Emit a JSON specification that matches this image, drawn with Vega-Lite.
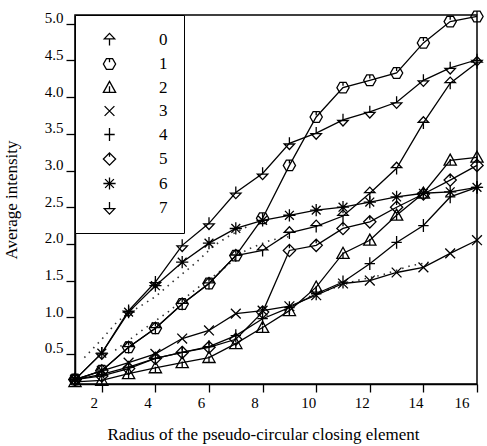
{
  "$schema": "https://vega.github.io/schema/vega-lite/v6.json",
  "width": 402,
  "height": 369,
  "autosize": "none",
  "padding": {"left": 75, "top": 15, "right": 10, "bottom": 62},
  "background": "white",
  "config": {
    "view": {"stroke": "black", "strokeWidth": 1.5},
    "font": "Liberation Serif",
    "axis": {
      "domainColor": "black", "domainWidth": 1.5, "tickColor": "black", "tickWidth": 1.3,
      "labelColor": "black", "labelFont": "Liberation Serif", "labelFontSize": 15,
      "titleColor": "black", "titleFont": "Liberation Serif", "titleFontSize": 17, "titleFontWeight": "normal",
      "grid": false
    }
  },
  "datasets": {
    "main": [
      {"s": "0", "x": 1, "y": 0.15}, {"s": "0", "x": 2, "y": 0.27}, {"s": "0", "x": 3, "y": 0.59}, {"s": "0", "x": 4, "y": 0.85},
      {"s": "0", "x": 5, "y": 1.18}, {"s": "0", "x": 6, "y": 1.46}, {"s": "0", "x": 7, "y": 1.84}, {"s": "0", "x": 8, "y": 1.91},
      {"s": "0", "x": 9, "y": 2.15}, {"s": "0", "x": 10, "y": 2.24}, {"s": "0", "x": 11, "y": 2.38}, {"s": "0", "x": 12, "y": 2.69},
      {"s": "0", "x": 13, "y": 3.03}, {"s": "0", "x": 14, "y": 3.65}, {"s": "0", "x": 15, "y": 4.19}, {"s": "0", "x": 16, "y": 4.47},
      {"s": "1", "x": 1, "y": 0.15}, {"s": "1", "x": 2, "y": 0.27}, {"s": "1", "x": 3, "y": 0.59}, {"s": "1", "x": 4, "y": 0.85},
      {"s": "1", "x": 5, "y": 1.18}, {"s": "1", "x": 6, "y": 1.46}, {"s": "1", "x": 7, "y": 1.84}, {"s": "1", "x": 8, "y": 2.35},
      {"s": "1", "x": 9, "y": 3.07}, {"s": "1", "x": 10, "y": 3.73}, {"s": "1", "x": 11, "y": 4.13}, {"s": "1", "x": 12, "y": 4.23},
      {"s": "1", "x": 13, "y": 4.33}, {"s": "1", "x": 14, "y": 4.74}, {"s": "1", "x": 15, "y": 5.03}, {"s": "1", "x": 16, "y": 5.1},
      {"s": "2", "x": 1, "y": 0.12}, {"s": "2", "x": 2, "y": 0.14}, {"s": "2", "x": 3, "y": 0.23}, {"s": "2", "x": 4, "y": 0.31},
      {"s": "2", "x": 5, "y": 0.38}, {"s": "2", "x": 6, "y": 0.45}, {"s": "2", "x": 7, "y": 0.64}, {"s": "2", "x": 8, "y": 0.86},
      {"s": "2", "x": 9, "y": 1.09}, {"s": "2", "x": 10, "y": 1.41}, {"s": "2", "x": 11, "y": 1.87}, {"s": "2", "x": 12, "y": 2.05},
      {"s": "2", "x": 13, "y": 2.39}, {"s": "2", "x": 14, "y": 2.69}, {"s": "2", "x": 15, "y": 3.14}, {"s": "2", "x": 16, "y": 3.18},
      {"s": "3", "x": 1, "y": 0.15}, {"s": "3", "x": 2, "y": 0.27}, {"s": "3", "x": 3, "y": 0.38}, {"s": "3", "x": 4, "y": 0.5},
      {"s": "3", "x": 5, "y": 0.71}, {"s": "3", "x": 6, "y": 0.82}, {"s": "3", "x": 7, "y": 1.05}, {"s": "3", "x": 8, "y": 1.09},
      {"s": "3", "x": 9, "y": 1.15}, {"s": "3", "x": 10, "y": 1.3}, {"s": "3", "x": 11, "y": 1.46}, {"s": "3", "x": 12, "y": 1.5},
      {"s": "3", "x": 13, "y": 1.61}, {"s": "3", "x": 14, "y": 1.68}, {"s": "3", "x": 15, "y": 1.87}, {"s": "3", "x": 16, "y": 2.05},
      {"s": "4", "x": 1, "y": 0.15}, {"s": "4", "x": 2, "y": 0.22}, {"s": "4", "x": 3, "y": 0.32}, {"s": "4", "x": 4, "y": 0.44},
      {"s": "4", "x": 5, "y": 0.52}, {"s": "4", "x": 6, "y": 0.6}, {"s": "4", "x": 7, "y": 0.75}, {"s": "4", "x": 8, "y": 0.98},
      {"s": "4", "x": 9, "y": 1.13}, {"s": "4", "x": 10, "y": 1.32}, {"s": "4", "x": 11, "y": 1.48}, {"s": "4", "x": 12, "y": 1.73},
      {"s": "4", "x": 13, "y": 2.02}, {"s": "4", "x": 14, "y": 2.25}, {"s": "4", "x": 15, "y": 2.64}, {"s": "4", "x": 16, "y": 2.77},
      {"s": "5", "x": 1, "y": 0.15}, {"s": "5", "x": 2, "y": 0.2}, {"s": "5", "x": 3, "y": 0.3}, {"s": "5", "x": 4, "y": 0.44},
      {"s": "5", "x": 5, "y": 0.52}, {"s": "5", "x": 6, "y": 0.59}, {"s": "5", "x": 7, "y": 0.7}, {"s": "5", "x": 8, "y": 1.07},
      {"s": "5", "x": 9, "y": 1.91}, {"s": "5", "x": 10, "y": 1.98}, {"s": "5", "x": 11, "y": 2.21}, {"s": "5", "x": 12, "y": 2.3},
      {"s": "5", "x": 13, "y": 2.5}, {"s": "5", "x": 14, "y": 2.68}, {"s": "5", "x": 15, "y": 2.87}, {"s": "5", "x": 16, "y": 3.07},
      {"s": "6", "x": 1, "y": 0.15}, {"s": "6", "x": 2, "y": 0.51}, {"s": "6", "x": 3, "y": 1.07}, {"s": "6", "x": 4, "y": 1.43},
      {"s": "6", "x": 5, "y": 1.75}, {"s": "6", "x": 6, "y": 2.01}, {"s": "6", "x": 7, "y": 2.21}, {"s": "6", "x": 8, "y": 2.32},
      {"s": "6", "x": 9, "y": 2.39}, {"s": "6", "x": 10, "y": 2.46}, {"s": "6", "x": 11, "y": 2.5}, {"s": "6", "x": 12, "y": 2.57},
      {"s": "6", "x": 13, "y": 2.64}, {"s": "6", "x": 14, "y": 2.69}, {"s": "6", "x": 15, "y": 2.71}, {"s": "6", "x": 16, "y": 2.77},
      {"s": "7", "x": 1, "y": 0.15}, {"s": "7", "x": 2, "y": 0.51}, {"s": "7", "x": 3, "y": 1.09}, {"s": "7", "x": 4, "y": 1.48},
      {"s": "7", "x": 5, "y": 1.98}, {"s": "7", "x": 6, "y": 2.28}, {"s": "7", "x": 7, "y": 2.7}, {"s": "7", "x": 8, "y": 2.96},
      {"s": "7", "x": 9, "y": 3.37}, {"s": "7", "x": 10, "y": 3.51}, {"s": "7", "x": 11, "y": 3.69}, {"s": "7", "x": 12, "y": 3.8},
      {"s": "7", "x": 13, "y": 3.93}, {"s": "7", "x": 14, "y": 4.23}, {"s": "7", "x": 15, "y": 4.4}, {"s": "7", "x": 16, "y": 4.51}
    ],
    "dots": [
      {"d": "a", "x": 1.35, "y": 0.45}, {"d": "a", "x": 2.0, "y": 0.7}, {"d": "a", "x": 2.6, "y": 0.95}, {"d": "a", "x": 3.3, "y": 1.12},
      {"d": "a", "x": 4.0, "y": 1.28}, {"d": "a", "x": 4.7, "y": 1.5}, {"d": "a", "x": 5.5, "y": 1.74}, {"d": "a", "x": 6.2, "y": 1.98},
      {"d": "a", "x": 6.8, "y": 2.12}, {"d": "a", "x": 7.5, "y": 2.25},
      {"d": "b", "x": 2.5, "y": 0.55}, {"d": "b", "x": 3.5, "y": 0.82}, {"d": "b", "x": 4.5, "y": 1.08}, {"d": "b", "x": 5.5, "y": 1.38},
      {"d": "b", "x": 6.5, "y": 1.65}, {"d": "b", "x": 7.4, "y": 1.92}, {"d": "b", "x": 8.3, "y": 2.05}, {"d": "b", "x": 9.0, "y": 2.1},
      {"d": "c", "x": 9.5, "y": 1.25}, {"d": "c", "x": 10.5, "y": 1.38}, {"d": "c", "x": 11.5, "y": 1.5}, {"d": "c", "x": 12.5, "y": 1.58},
      {"d": "c", "x": 13.5, "y": 1.7}, {"d": "c", "x": 14.2, "y": 1.75}
    ]
  },
  "layer": [
    {
      "data": {"name": "dots"},
      "mark": {"type": "line", "color": "#333", "strokeWidth": 1.6, "strokeDash": [1.5, 5]},
      "encoding": {
        "x": {"field": "x", "type": "quantitative"},
        "y": {"field": "y", "type": "quantitative"},
        "detail": {"field": "d", "type": "nominal"}
      }
    },
    {
      "data": {"name": "main"},
      "mark": {"type": "line", "color": "black", "strokeWidth": 1.3},
      "encoding": {
        "x": {"field": "x", "type": "quantitative"},
        "y": {"field": "y", "type": "quantitative"},
        "detail": {"field": "s", "type": "nominal"}
      }
    },
    {
      "data": {"name": "main"},
      "mark": {"type": "point", "filled": false, "color": "black", "strokeWidth": 1.3, "size": 150, "opacity": 1},
      "encoding": {
        "x": {
          "field": "x", "type": "quantitative",
          "scale": {"domain": [1, 16], "nice": false, "zero": false},
          "axis": {"values": [2, 4, 6, 8, 10, 12, 14, 16], "tickSize": 8, "labelOffset": -8, "labelPadding": 3,
                   "title": "Radius of the pseudo-circular closing element", "titlePadding": 16, "titleX": 188}
        },
        "y": {
          "field": "y", "type": "quantitative",
          "scale": {"domain": [0.09, 5.12], "nice": false, "zero": false},
          "axis": {"values": [0.5, 1, 1.5, 2, 2.5, 3, 3.5, 4, 4.5, 5], "format": ".1f", "tickSize": 9, "labelPadding": 3,
                   "labelOffset": -6, "title": "Average intensity", "titlePadding": 24}
        },
        "shape": {
          "field": "s", "type": "nominal",
          "scale": {
            "domain": ["0", "1", "2", "3", "4", "5", "6", "7"],
            "range": [
              "M0,-1L0.85,-0.1L-0.85,-0.1ZM0,-0.1L0,1",
              "M-0.5,-0.87L0.5,-0.87L1,0L0.5,0.87L-0.5,0.87L-1,0ZM0,-0.87L0,-0.3",
              "M0,-1L1,0.8L-1,0.8ZM0,-0.2L0,0.8",
              "M-0.8,-0.8L0.8,0.8M-0.8,0.8L0.8,-0.8",
              "M-0.85,0L0.85,0M0,-1.05L0,1.05",
              "M0,-1L1,0L0,1L-1,0ZM0,-1L0,-0.35",
              "M-1,0L1,0M0,-1L0,1M-0.72,-0.72L0.72,0.72M-0.72,0.72L0.72,-0.72",
              "M-0.85,0.1L0.85,0.1L0,1ZM0,0.1L0,-1"
            ]
          },
          "legend": {
            "orient": "none", "legendX": 0, "legendY": 0, "title": null,
            "strokeColor": "black", "fillColor": "white", "padding": 16,
            "symbolOffset": 10, "labelOffset": 41, "rowPadding": 5.5,
            "labelFontSize": 17, "labelFont": "Liberation Serif", "labelColor": "black",
            "symbolSize": 150, "symbolStrokeWidth": 1.3, "symbolStrokeColor": "black", "symbolFillColor": "transparent",
            "labelExpr": "datum.label + '\u00a0\u00a0\u00a0\u00a0'"
          }
        }
      }
    }
  ]
}
